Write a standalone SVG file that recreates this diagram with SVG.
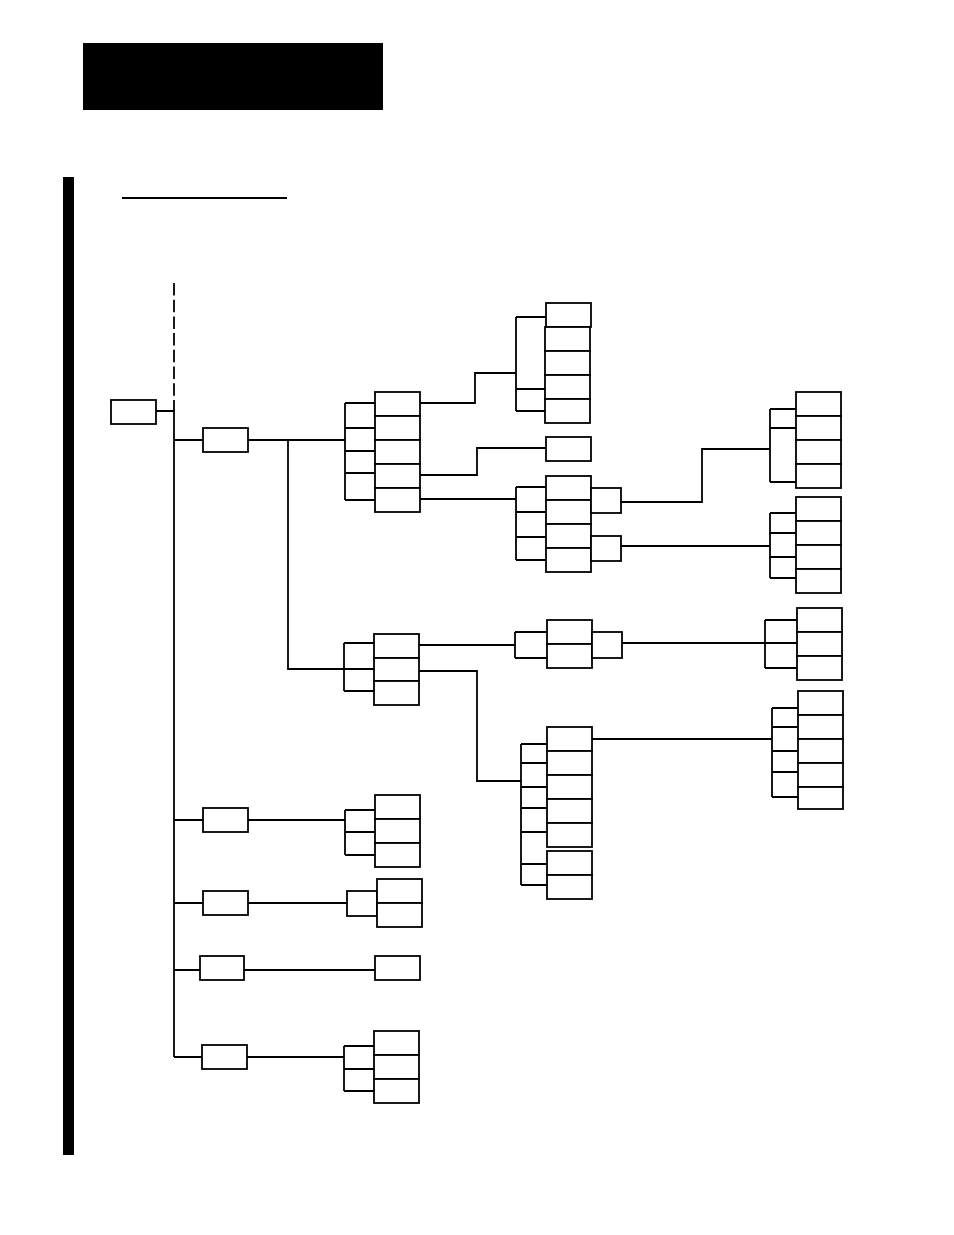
<svg xmlns="http://www.w3.org/2000/svg" width="954" height="1235" viewBox="0 0 954 1235">
<style>
.b{fill:#fff;stroke:#000;stroke-width:1.8}
.c{fill:none;stroke:#000;stroke-width:1.8}
.d{fill:none;stroke:#000;stroke-width:1.8;stroke-dasharray:12.5 4.2}
</style>
<rect width="954" height="1235" fill="#fff"/>
<g id="header"><rect x="83" y="43" width="300" height="67" fill="#000"/></g>
<g id="sidebar"><rect x="63" y="177" width="11" height="978" fill="#000"/></g>
<g id="title-rule"><line x1="122" y1="198" x2="287" y2="198" class="c"/></g>

<g id="connectors">
<line x1="174" y1="283" x2="174" y2="400" class="d"/>
<path class="c" d="M174 400V1057M156 411H174"/>
<path class="c" d="M174 440H203M248 440H345M288 440V669H345"/>
<path class="c" d="M345 403V500M345 403H375M345 428H375M345 451H375M345 473H375M345 500H375"/>
<path class="c" d="M420 403H475V373H516M516 317V411M516 317H546M516 389H545M516 411H545"/>
<path class="c" d="M420 475H477V448H546"/>
<path class="c" d="M420 499H516M516 487V560M516 487H546M516 512H546M516 537H546M516 560H546"/>
<path class="c" d="M621 502H702V449H770M770 409V482M770 409H796M770 428H796M770 482H796"/>
<path class="c" d="M621 546H770M770 513V578M770 513H796M770 533H796M770 557H796M770 578H796"/>
<path class="c" d="M344 643V691M344 643H374M344 669H374M344 691H374"/>
<path class="c" d="M419 645H515M515 632V658M515 632H547M515 658H547"/>
<path class="c" d="M622 643H765M765 620V668M765 620H797M765 643H797M765 668H797"/>
<path class="c" d="M419 671H477V781H521M521 744V885M521 744H547M521 763H547M521 787H547M521 808H547M521 832H547M521 864H547M521 885H547"/>
<path class="c" d="M592 739H772M772 708V797M772 708H798M772 727H798M772 751H798M772 772H798M772 797H798"/>
<path class="c" d="M174 820H203M248 820H345M345 810V855M345 810H375M345 832H375M345 855H375"/>
<path class="c" d="M174 903H203M248 903H347"/>
<path class="c" d="M174 970H200M244 970H375"/>
<path class="c" d="M174 1057H202M247 1057H344M344 1046V1091M344 1046H374M344 1069H374M344 1091H374"/>
</g>

<g id="root"><rect class="b" x="111" y="400" width="45" height="24"/></g>
<g id="nodeA"><rect class="b" x="203" y="428" width="45" height="24"/></g>
<g id="G1">
<rect class="b" x="375" y="392" width="45" height="24"/>
<rect class="b" x="375" y="416" width="45" height="24"/>
<rect class="b" x="375" y="440" width="45" height="24"/>
<rect class="b" x="375" y="464" width="45" height="24"/>
<rect class="b" x="375" y="488" width="45" height="24"/>
</g>
<g id="G2">
<rect class="b" x="546" y="303" width="45" height="24"/>
<rect class="b" x="545" y="327" width="45" height="24"/>
<rect class="b" x="545" y="351" width="45" height="24"/>
<rect class="b" x="545" y="375" width="45" height="24"/>
<rect class="b" x="545" y="399" width="45" height="24"/>
</g>
<g id="Gsingle"><rect class="b" x="546" y="437" width="45" height="24"/></g>
<g id="G3">
<rect class="b" x="546" y="476" width="45" height="24"/>
<rect class="b" x="546" y="500" width="45" height="24"/>
<rect class="b" x="546" y="524" width="45" height="24"/>
<rect class="b" x="546" y="548" width="45" height="24"/>
</g>
<g id="G3a"><rect class="b" x="591" y="488" width="30" height="25"/></g>
<g id="G3b"><rect class="b" x="591" y="536" width="30" height="25"/></g>
<g id="G4">
<rect class="b" x="796" y="392" width="45" height="24"/>
<rect class="b" x="796" y="416" width="45" height="24"/>
<rect class="b" x="796" y="440" width="45" height="24"/>
<rect class="b" x="796" y="464" width="45" height="24"/>
</g>
<g id="G5">
<rect class="b" x="796" y="497" width="45" height="24"/>
<rect class="b" x="796" y="521" width="45" height="24"/>
<rect class="b" x="796" y="545" width="45" height="24"/>
<rect class="b" x="796" y="569" width="45" height="24"/>
</g>
<g id="G6">
<rect class="b" x="374" y="634" width="45" height="24"/>
<rect class="b" x="374" y="658" width="45" height="23"/>
<rect class="b" x="374" y="681" width="45" height="24"/>
</g>
<g id="G7">
<rect class="b" x="547" y="620" width="45" height="24"/>
<rect class="b" x="547" y="644" width="45" height="24"/>
</g>
<g id="G7a"><rect class="b" x="592" y="632" width="30" height="26"/></g>
<g id="G8">
<rect class="b" x="797" y="608" width="45" height="24"/>
<rect class="b" x="797" y="632" width="45" height="24"/>
<rect class="b" x="797" y="656" width="45" height="24"/>
</g>
<g id="G9">
<rect class="b" x="547" y="727" width="45" height="24"/>
<rect class="b" x="547" y="751" width="45" height="24"/>
<rect class="b" x="547" y="775" width="45" height="24"/>
<rect class="b" x="547" y="799" width="45" height="24"/>
<rect class="b" x="547" y="823" width="45" height="24"/>
</g>
<g id="G9b">
<rect class="b" x="547" y="851" width="45" height="24"/>
<rect class="b" x="547" y="875" width="45" height="24"/>
</g>
<g id="G10">
<rect class="b" x="798" y="691" width="45" height="24"/>
<rect class="b" x="798" y="715" width="45" height="24"/>
<rect class="b" x="798" y="739" width="45" height="24"/>
<rect class="b" x="798" y="763" width="45" height="24"/>
<rect class="b" x="798" y="787" width="45" height="22"/>
</g>
<g id="nodeB"><rect class="b" x="203" y="808" width="45" height="24"/></g>
<g id="G11">
<rect class="b" x="375" y="795" width="45" height="24"/>
<rect class="b" x="375" y="819" width="45" height="24"/>
<rect class="b" x="375" y="843" width="45" height="24"/>
</g>
<g id="nodeC"><rect class="b" x="203" y="891" width="45" height="24"/></g>
<g id="G12a"><rect class="b" x="347" y="891" width="30" height="25"/></g>
<g id="G12">
<rect class="b" x="377" y="879" width="45" height="24"/>
<rect class="b" x="377" y="903" width="45" height="24"/>
</g>
<g id="nodeD"><rect class="b" x="200" y="956" width="44" height="24"/></g>
<g id="G13"><rect class="b" x="375" y="956" width="45" height="24"/></g>
<g id="nodeE"><rect class="b" x="202" y="1045" width="45" height="24"/></g>
<g id="G14">
<rect class="b" x="374" y="1031" width="45" height="24"/>
<rect class="b" x="374" y="1055" width="45" height="24"/>
<rect class="b" x="374" y="1079" width="45" height="24"/>
</g>
</svg>
